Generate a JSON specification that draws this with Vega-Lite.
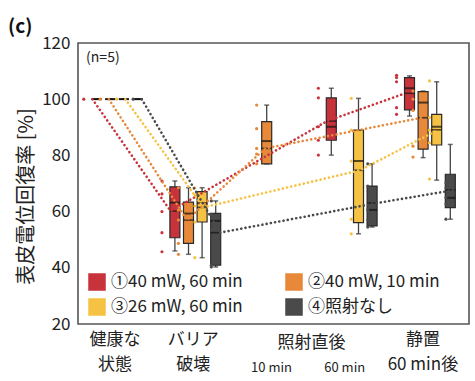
{
  "$schema": "https://vega.github.io/schema/vega-lite/v6.json",
  "width": 391,
  "height": 281,
  "autosize": {"type": "none"},
  "padding": {"left": 78, "top": 43, "right": 6, "bottom": 57},
  "background": "white",
  "title": {"text": "(c)", "anchor": "start", "frame": "group", "dx": -70, "dy": 22, "offset": 0, "baseline": "bottom", "fontSize": 19, "fontWeight": "bold", "font": "Noto Sans CJK JP", "color": "#111"},
  "config": {
    "view": {"stroke": "#555", "strokeWidth": 1.6},
    "font": "Noto Sans CJK JP",
    "legend": {"orient": "none", "legendX": 10, "legendY": 230, "columns": 2, "direction": "horizontal", "symbolType": "square", "symbolSize": 256, "symbolStrokeColor": "#222", "symbolStrokeWidth": 1.5, "symbolOpacity": 1, "labelFontSize": 17, "labelFont": "Noto Sans CJK JP", "labelColor": "#222", "labelLimit": 250, "columnPadding": 40, "rowPadding": 3, "labelOffset": 5, "title": null}
  },
  "datasets": {
    "summary": [
      {"stage": "健康な状態", "group": "①40 mW, 60 min", "step": 0, "min": 100, "q1": 100, "median": 100, "q3": 100, "max": 100, "mean": 100},
      {"stage": "健康な状態", "group": "②40 mW, 10 min", "step": 0, "min": 100, "q1": 100, "median": 100, "q3": 100, "max": 100, "mean": 100},
      {"stage": "健康な状態", "group": "③26 mW, 60 min", "step": 0, "min": 100, "q1": 100, "median": 100, "q3": 100, "max": 100, "mean": 100},
      {"stage": "健康な状態", "group": "④照射なし", "step": 0, "min": 100, "q1": 100, "median": 100, "q3": 100, "max": 100, "mean": 100},
      {"stage": "バリア破壊", "group": "①40 mW, 60 min", "step": 1, "min": 46.0, "q1": 50.7, "median": 63.2, "q3": 68.8, "max": 70.9, "mean": 60.2},
      {"stage": "バリア破壊", "group": "②40 mW, 10 min", "step": 1, "min": 44.8, "q1": 48.7, "median": 59.3, "q3": 63.4, "max": 68.5, "mean": 57.0},
      {"stage": "バリア破壊", "group": "③26 mW, 60 min", "step": 1, "min": 43.6, "q1": 56.3, "median": 63.0, "q3": 67.1, "max": 68.5, "mean": 61.5},
      {"stage": "バリア破壊", "group": "④照射なし", "step": 1, "min": 40.3, "q1": 40.9, "median": 56.7, "q3": 59.4, "max": 63.8, "mean": 52.5},
      {"stage": "10 min", "group": "②40 mW, 10 min", "step": 2, "min": 77.0, "q1": 77.0, "median": 85.1, "q3": 92.0, "max": 97.9, "mean": 82.5},
      {"stage": "60 min", "group": "①40 mW, 60 min", "step": 3, "min": 80.1, "q1": 85.4, "median": 90.2, "q3": 100.5, "max": 103.9, "mean": 92.2},
      {"stage": "60 min", "group": "③26 mW, 60 min", "step": 3, "min": 52.1, "q1": 56.1, "median": 78.0, "q3": 89.0, "max": 100.3, "mean": 74.7},
      {"stage": "60 min", "group": "④照射なし", "step": 3, "min": 54.5, "q1": 54.9, "median": 60.6, "q3": 69.1, "max": 77.0, "mean": 63.0},
      {"stage": "静置60 min後", "group": "①40 mW, 60 min", "step": 4, "min": 94.0, "q1": 96.2, "median": 103.9, "q3": 107.7, "max": 108.3, "mean": 102.1},
      {"stage": "静置60 min後", "group": "②40 mW, 10 min", "step": 4, "min": 79.2, "q1": 82.2, "median": 98.8, "q3": 102.7, "max": 102.9, "mean": 93.4},
      {"stage": "静置60 min後", "group": "③26 mW, 60 min", "step": 4, "min": 71.2, "q1": 83.7, "median": 90.2, "q3": 94.6, "max": 106.2, "mean": 89.1},
      {"stage": "静置60 min後", "group": "④照射なし", "step": 4, "min": 57.3, "q1": 61.4, "median": 64.9, "q3": 73.3, "max": 83.9, "mean": 67.7}
    ],
    "dots": [
      {"stage": "健康な状態", "group": "①40 mW, 60 min", "value": 100},
      {"stage": "健康な状態", "group": "②40 mW, 10 min", "value": 100},
      {"stage": "健康な状態", "group": "③26 mW, 60 min", "value": 100},
      {"stage": "健康な状態", "group": "④照射なし", "value": 100},
      {"stage": "バリア破壊", "group": "①40 mW, 60 min", "value": 45.7},
      {"stage": "バリア破壊", "group": "①40 mW, 60 min", "value": 52.5},
      {"stage": "バリア破壊", "group": "①40 mW, 60 min", "value": 60.0},
      {"stage": "バリア破壊", "group": "①40 mW, 60 min", "value": 66.3},
      {"stage": "バリア破壊", "group": "①40 mW, 60 min", "value": 70.9},
      {"stage": "バリア破壊", "group": "②40 mW, 10 min", "value": 44.8},
      {"stage": "バリア破壊", "group": "②40 mW, 10 min", "value": 48.7},
      {"stage": "バリア破壊", "group": "②40 mW, 10 min", "value": 57.0},
      {"stage": "バリア破壊", "group": "②40 mW, 10 min", "value": 60.5},
      {"stage": "バリア破壊", "group": "②40 mW, 10 min", "value": 68.5},
      {"stage": "バリア破壊", "group": "③26 mW, 60 min", "value": 43.6},
      {"stage": "バリア破壊", "group": "③26 mW, 60 min", "value": 56.3},
      {"stage": "バリア破壊", "group": "③26 mW, 60 min", "value": 62.0},
      {"stage": "バリア破壊", "group": "③26 mW, 60 min", "value": 66.0},
      {"stage": "バリア破壊", "group": "③26 mW, 60 min", "value": 68.5},
      {"stage": "バリア破壊", "group": "④照射なし", "value": 40.3},
      {"stage": "バリア破壊", "group": "④照射なし", "value": 40.9},
      {"stage": "バリア破壊", "group": "④照射なし", "value": 53.5},
      {"stage": "バリア破壊", "group": "④照射なし", "value": 59.0},
      {"stage": "バリア破壊", "group": "④照射なし", "value": 63.8},
      {"stage": "10 min", "group": "②40 mW, 10 min", "value": 77.0},
      {"stage": "10 min", "group": "②40 mW, 10 min", "value": 80.5},
      {"stage": "10 min", "group": "②40 mW, 10 min", "value": 82.5},
      {"stage": "10 min", "group": "②40 mW, 10 min", "value": 89.5},
      {"stage": "10 min", "group": "②40 mW, 10 min", "value": 97.9},
      {"stage": "60 min", "group": "①40 mW, 60 min", "value": 80.1},
      {"stage": "60 min", "group": "①40 mW, 60 min", "value": 85.4},
      {"stage": "60 min", "group": "①40 mW, 60 min", "value": 90.2},
      {"stage": "60 min", "group": "①40 mW, 60 min", "value": 100.5},
      {"stage": "60 min", "group": "①40 mW, 60 min", "value": 103.9},
      {"stage": "60 min", "group": "③26 mW, 60 min", "value": 52.1},
      {"stage": "60 min", "group": "③26 mW, 60 min", "value": 57.3},
      {"stage": "60 min", "group": "③26 mW, 60 min", "value": 78.0},
      {"stage": "60 min", "group": "③26 mW, 60 min", "value": 89.0},
      {"stage": "60 min", "group": "③26 mW, 60 min", "value": 100.3},
      {"stage": "60 min", "group": "④照射なし", "value": 54.5},
      {"stage": "60 min", "group": "④照射なし", "value": 57.0},
      {"stage": "60 min", "group": "④照射なし", "value": 60.6},
      {"stage": "60 min", "group": "④照射なし", "value": 69.1},
      {"stage": "60 min", "group": "④照射なし", "value": 77.0},
      {"stage": "静置60 min後", "group": "①40 mW, 60 min", "value": 94.6},
      {"stage": "静置60 min後", "group": "①40 mW, 60 min", "value": 97.0},
      {"stage": "静置60 min後", "group": "①40 mW, 60 min", "value": 106.2},
      {"stage": "静置60 min後", "group": "①40 mW, 60 min", "value": 107.7},
      {"stage": "静置60 min後", "group": "①40 mW, 60 min", "value": 108.5},
      {"stage": "静置60 min後", "group": "②40 mW, 10 min", "value": 79.4},
      {"stage": "静置60 min後", "group": "②40 mW, 10 min", "value": 83.3},
      {"stage": "静置60 min後", "group": "②40 mW, 10 min", "value": 96.0},
      {"stage": "静置60 min後", "group": "②40 mW, 10 min", "value": 100.0},
      {"stage": "静置60 min後", "group": "②40 mW, 10 min", "value": 102.9},
      {"stage": "静置60 min後", "group": "③26 mW, 60 min", "value": 71.6},
      {"stage": "静置60 min後", "group": "③26 mW, 60 min", "value": 84.5},
      {"stage": "静置60 min後", "group": "③26 mW, 60 min", "value": 89.0},
      {"stage": "静置60 min後", "group": "③26 mW, 60 min", "value": 93.5},
      {"stage": "静置60 min後", "group": "③26 mW, 60 min", "value": 106.5},
      {"stage": "静置60 min後", "group": "④照射なし", "value": 57.3},
      {"stage": "静置60 min後", "group": "④照射なし", "value": 62.8},
      {"stage": "静置60 min後", "group": "④照射なし", "value": 65.0},
      {"stage": "静置60 min後", "group": "④照射なし", "value": 68.5},
      {"stage": "静置60 min後", "group": "④照射なし", "value": 70.3}
    ],
    "note": [{"text": "(n=5)"}]
  },
  "encoding": {
    "x": {
      "field": "stage", "type": "nominal",
      "scale": {"domain": ["健康な状態", "バリア破壊", "10 min", "60 min", "静置60 min後"], "paddingInner": 0, "paddingOuter": 0},
      "axis": {
        "title": "照射直後", "titleX": 233, "titleY": 18, "titleAngle": 0, "titleAlign": "center", "titleBaseline": "middle",
        "titleFontSize": 17, "titleFontWeight": "normal", "titleColor": "#222", "titleFont": "Noto Sans CJK JP",
        "labelAngle": 0, "ticks": false, "domain": false, "labelColor": "#222", "labelLineHeight": 25,
        "labelExpr": "datum.value == '健康な状態' ? ['健康な','状態'] : datum.value == 'バリア破壊' ? ['バリア','破壊'] : datum.value == '静置60 min後' ? ['静置','60 min後'] : datum.value",
        "labelFontSize": {"condition": {"test": "datum.value == '10 min' || datum.value == '60 min'", "value": 13}, "value": 17},
        "labelPadding": {"condition": {"test": "datum.value == '10 min' || datum.value == '60 min'", "value": 37}, "value": 7},
        "labelOffset": {"condition": {"test": "datum.value == '60 min' || datum.value == '静置60 min後'", "value": -7}, "value": -2}
      }
    },
    "y": {
      "type": "quantitative",
      "scale": {"domain": [20, 120], "nice": false, "zero": false},
      "axis": {
        "title": "表皮電位回復率 [%]", "titleFontSize": 20, "titleFontWeight": "normal", "titleColor": "#222",
        "titleX": -52, "titleY": 153, "titleAlign": "center", "titleBaseline": "middle", "titleAngle": -90,
        "values": [20, 40, 60, 80, 100, 120], "labelFontSize": 17, "labelColor": "#222", "labelPadding": 8,
        "ticks": false, "domain": false, "grid": false
      }
    }
  },
  "layer": [
    {
      "data": {"name": "summary"},
      "mark": {"type": "rule", "color": "#444", "strokeWidth": 1.3},
      "encoding": {"xOffset": {"field": "group", "type": "nominal", "scale": {"domain": ["①40 mW, 60 min", "②40 mW, 10 min", "③26 mW, 60 min", "④照射なし"], "paddingInner": 0, "paddingOuter": 0.875}}, "y": {"field": "min", "type": "quantitative"}, "y2": {"field": "max"}}
    },
    {
      "data": {"name": "summary"},
      "mark": {"type": "tick", "color": "#333", "thickness": 1.5, "size": 5},
      "encoding": {"xOffset": {"field": "group", "type": "nominal", "scale": {"domain": ["①40 mW, 60 min", "②40 mW, 10 min", "③26 mW, 60 min", "④照射なし"], "paddingInner": 0, "paddingOuter": 0.875}}, "y": {"field": "min", "type": "quantitative"}}
    },
    {
      "data": {"name": "summary"},
      "mark": {"type": "tick", "color": "#333", "thickness": 1.5, "size": 5},
      "encoding": {"xOffset": {"field": "group", "type": "nominal", "scale": {"domain": ["①40 mW, 60 min", "②40 mW, 10 min", "③26 mW, 60 min", "④照射なし"], "paddingInner": 0, "paddingOuter": 0.875}}, "y": {"field": "max", "type": "quantitative"}}
    },
    {
      "data": {"name": "summary"},
      "mark": {"type": "bar", "width": 10, "stroke": "#2a2a2a", "strokeWidth": 1.2, "opacity": 1},
      "encoding": {
        "xOffset": {"field": "group", "type": "nominal", "scale": {"domain": ["①40 mW, 60 min", "②40 mW, 10 min", "③26 mW, 60 min", "④照射なし"], "paddingInner": 0, "paddingOuter": 0.875}},
        "y": {"field": "q1", "type": "quantitative"}, "y2": {"field": "q3"},
        "color": {"field": "group", "type": "nominal", "scale": {"domain": ["①40 mW, 60 min", "②40 mW, 10 min", "③26 mW, 60 min", "④照射なし"], "range": ["#c8333b", "#e8893a", "#f6c244", "#4a4a4a"]}, "legend": {}}
      }
    },
    {
      "data": {"name": "summary"},
      "mark": {"type": "tick", "color": "#111", "thickness": 2, "size": 10},
      "encoding": {"xOffset": {"field": "group", "type": "nominal", "scale": {"domain": ["①40 mW, 60 min", "②40 mW, 10 min", "③26 mW, 60 min", "④照射なし"], "paddingInner": 0, "paddingOuter": 0.875}}, "y": {"field": "median", "type": "quantitative"}}
    },
    {
      "data": {"name": "summary"},
      "mark": {"type": "tick", "color": "#111", "thickness": 1.6, "size": 10, "strokeDash": [2, 1.5]},
      "encoding": {"xOffset": {"field": "group", "type": "nominal", "scale": {"domain": ["①40 mW, 60 min", "②40 mW, 10 min", "③26 mW, 60 min", "④照射なし"], "paddingInner": 0, "paddingOuter": 0.875}}, "y": {"field": "mean", "type": "quantitative"}}
    },
    {
      "data": {"name": "dots"},
      "mark": {"type": "point", "filled": true, "size": 10, "opacity": 1},
      "encoding": {
        "xOffset": {"field": "group", "type": "nominal", "scale": {"domain": ["①40 mW, 60 min", "②40 mW, 10 min", "③26 mW, 60 min", "④照射なし"], "paddingInner": 0, "paddingOuter": 0.875, "align": 0.2}},
        "y": {"field": "value", "type": "quantitative"},
        "color": {"field": "group", "type": "nominal"}
      }
    },
    {
      "data": {"name": "summary"},
      "mark": {"type": "line", "strokeDash": [0.1, 4.2], "strokeCap": "round", "strokeWidth": 2.6},
      "encoding": {
        "xOffset": {"field": "group", "type": "nominal", "scale": {"domain": ["①40 mW, 60 min", "②40 mW, 10 min", "③26 mW, 60 min", "④照射なし"], "paddingInner": 0, "paddingOuter": 0.875}},
        "y": {"field": "mean", "type": "quantitative"},
        "color": {"field": "group", "type": "nominal"},
        "order": {"field": "step", "type": "quantitative"}
      }
    },
    {
      "data": {"name": "note"},
      "mark": {"type": "text", "align": "left", "baseline": "middle", "fontSize": 14, "color": "#222", "dx": -31},
      "encoding": {"x": {"datum": "健康な状態"}, "y": {"datum": 114.5}, "text": {"field": "text"}}
    }
  ],
  "resolve": {"scale": {"xOffset": "independent"}}
}
